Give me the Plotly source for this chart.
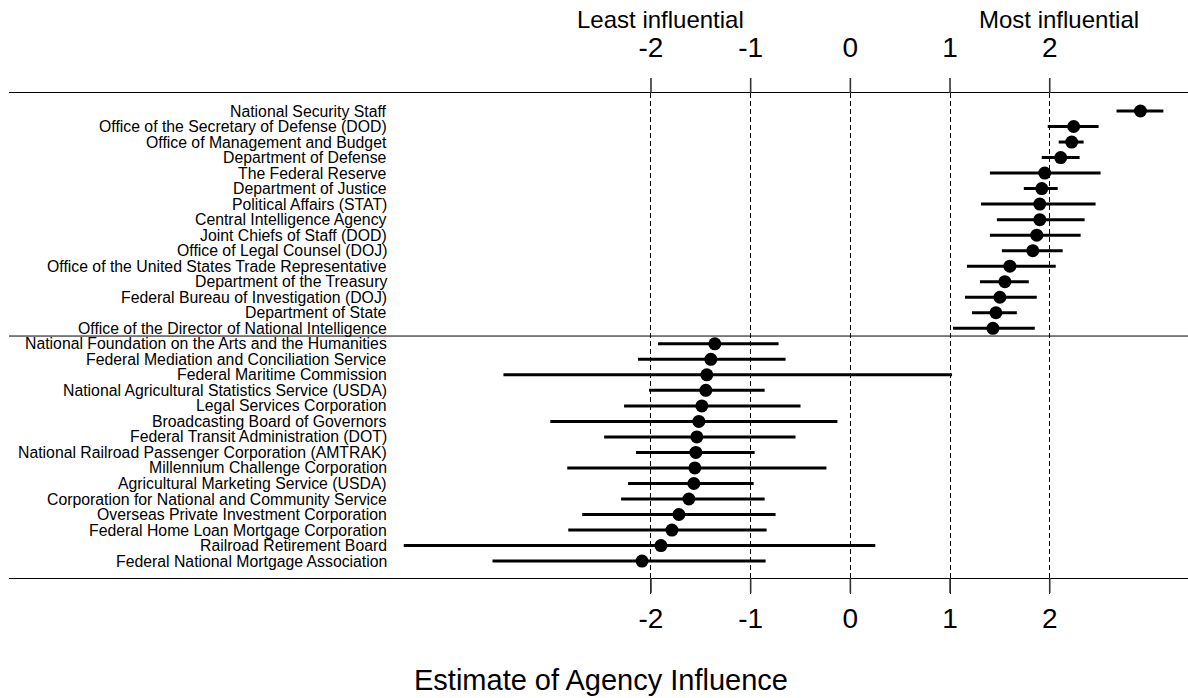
import plotly.graph_objects as go

top_agencies = [
    "National Security Staff",
    "Office of the Secretary of Defense (DOD)",
    "Office of Management and Budget",
    "Department of Defense",
    "The Federal Reserve",
    "Department of Justice",
    "Political Affairs (STAT)",
    "Central Intelligence Agency",
    "Joint Chiefs of Staff (DOD)",
    "Office of Legal Counsel (DOJ)",
    "Office of the United States Trade Representative",
    "Department of the Treasury",
    "Federal Bureau of Investigation (DOJ)",
    "Department of State",
    "Office of the Director of National Intelligence",
]
top_est = [2.91, 2.24, 2.22, 2.11, 1.95, 1.92, 1.90, 1.90, 1.87, 1.83, 1.60, 1.55, 1.50, 1.46, 1.43]
top_lo = [2.67, 1.98, 2.09, 1.92, 1.40, 1.74, 1.31, 1.47, 1.40, 1.52, 1.17, 1.30, 1.15, 1.22, 1.03]
top_hi = [3.14, 2.49, 2.34, 2.30, 2.51, 2.08, 2.46, 2.35, 2.31, 2.13, 2.06, 1.79, 1.87, 1.67, 1.85]

bottom_agencies = [
    "National Foundation on the Arts and the Humanities",
    "Federal Mediation and Conciliation Service",
    "Federal Maritime Commission",
    "National Agricultural Statistics Service (USDA)",
    "Legal Services Corporation",
    "Broadcasting Board of Governors",
    "Federal Transit Administration (DOT)",
    "National Railroad Passenger Corporation (AMTRAK)",
    "Millennium Challenge Corporation",
    "Agricultural Marketing Service (USDA)",
    "Corporation for National and Community Service",
    "Overseas Private Investment Corporation",
    "Federal Home Loan Mortgage Corporation",
    "Railroad Retirement Board",
    "Federal National Mortgage Association",
]
bottom_est = [-1.36, -1.40, -1.44, -1.45, -1.49, -1.52, -1.54, -1.55, -1.56, -1.57, -1.62, -1.72, -1.79, -1.90, -2.09]
bottom_lo = [-1.93, -2.13, -3.48, -2.02, -2.27, -3.01, -2.47, -2.15, -2.84, -2.23, -2.30, -2.69, -2.83, -4.48, -3.59]
bottom_hi = [-0.72, -0.65, 1.02, -0.86, -0.50, -0.13, -0.55, -0.96, -0.24, -0.97, -0.86, -0.75, -0.84, 0.25, -0.85]

tick_vals = [-2, -1, 0, 1, 2]
tick_text = ["-2", "-1", "0", "1", "2"]

agencies = top_agencies + bottom_agencies
est = top_est + bottom_est
lo = top_lo + bottom_lo
hi = top_hi + bottom_hi
ypos = list(range(len(agencies)))

FONT = "Liberation Sans, Arial, sans-serif"
LABEL_X = -4.637
X_RANGE = [-8.44, 3.387]
PLOT_H = 485  # plot area height in px
TICK_FRAC = 15 / PLOT_H


def to_paper(v):
    return (v - X_RANGE[0]) / (X_RANGE[1] - X_RANGE[0])


fig = go.Figure()
fig.add_trace(go.Scatter(
    x=est, y=ypos, mode="markers",
    marker=dict(color="black", size=13, symbol="circle"),
    error_x=dict(type="data", symmetric=False,
                 array=[h - e for h, e in zip(hi, est)],
                 arrayminus=[e - l for e, l in zip(est, lo)],
                 color="black", thickness=3, width=0),
    showlegend=False, hoverinfo="skip",
))
# invisible trace for the top axis
fig.add_trace(go.Scatter(x=[0], y=[0], xaxis="x2", mode="markers",
                         marker=dict(opacity=0), showlegend=False, hoverinfo="skip"))

annotations = []
for name, y in zip(agencies, ypos):
    annotations.append(dict(x=LABEL_X, y=y, xref="x", yref="y", text=name,
                            showarrow=False, xanchor="right", yanchor="middle",
                            font=dict(family=FONT, size=15.8, color="black"),
                            borderpad=0))
annotations += [
    dict(x=-1.9, y=1.151, xref="x", yref="paper", text="Least influential",
         showarrow=False, xanchor="center", yanchor="middle",
         font=dict(family=FONT, size=24, color="black")),
    dict(x=2.09, y=1.151, xref="x", yref="paper", text="Most influential",
         showarrow=False, xanchor="center", yanchor="middle",
         font=dict(family=FONT, size=24, color="black")),
    dict(x=0.502, y=-0.21, xref="paper", yref="paper", text="Estimate of Agency Influence",
         showarrow=False, xanchor="center", yanchor="middle",
         font=dict(family=FONT, size=29, color="black")),
]

tick_font = dict(family=FONT, size=28, color="black")

shapes = [dict(type="line", xref="paper", yref="y", x0=0, x1=1, y0=14.5, y1=14.5,
               line=dict(color="black", width=1))]
for v in tick_vals:
    p = to_paper(v)
    shapes.append(dict(type="line", xref="paper", yref="paper", x0=p, x1=p,
                       y0=1, y1=1 + TICK_FRAC, line=dict(color="#333333", width=1.6),
                       layer="above"))
    shapes.append(dict(type="line", xref="paper", yref="paper", x0=p, x1=p,
                       y0=0, y1=-TICK_FRAC, line=dict(color="#333333", width=1.6),
                       layer="above"))

fig.update_layout(
    width=1188, height=698,
    margin=dict(l=9, r=0, t=93, b=120),
    paper_bgcolor="white", plot_bgcolor="white",
    xaxis=dict(range=X_RANGE, tickvals=tick_vals, ticktext=tick_text,
               ticks="outside", ticklen=15, tickwidth=1, tickcolor="black",
               showline=True, linecolor="black", linewidth=1, zeroline=False,
               tickfont=tick_font, side="bottom",
               showgrid=True, gridcolor="black", gridwidth=1, griddash="5px,3px",
               fixedrange=True),
    xaxis2=dict(range=X_RANGE, tickvals=tick_vals, ticktext=tick_text,
                ticks="outside", ticklen=24, tickwidth=1, tickcolor="rgba(0,0,0,0)",
                showline=True, linecolor="black", linewidth=1, zeroline=False,
                tickfont=tick_font, showgrid=False,
                side="top", overlaying="x", anchor="y", fixedrange=True),
    yaxis=dict(range=[30.09, -1.16], visible=False, fixedrange=True),
    annotations=annotations,
    shapes=shapes,
    showlegend=False,
)

fig.write_html("out.html")
